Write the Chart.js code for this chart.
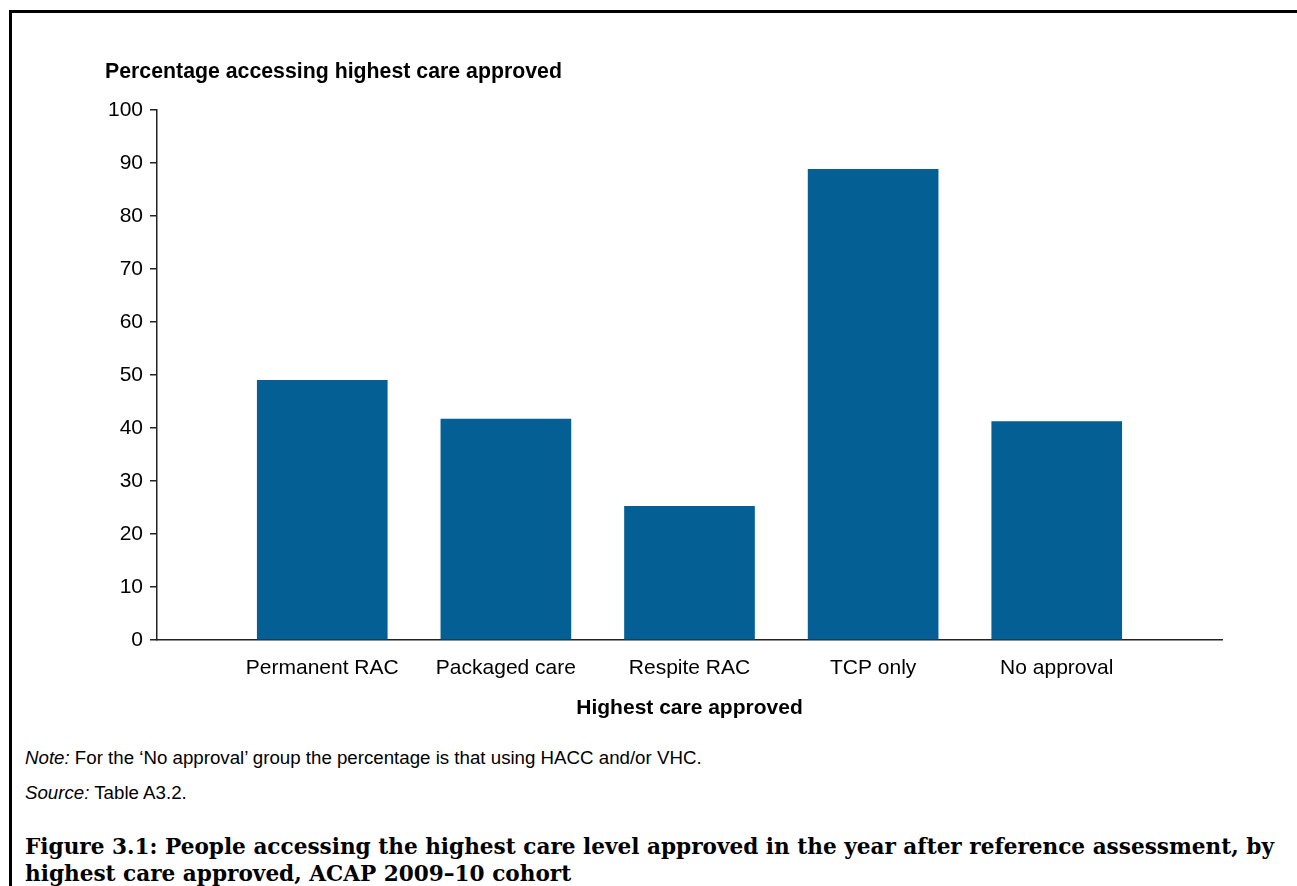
<!DOCTYPE html>
<html>
<head>
<meta charset="utf-8">
<script src="https://cdn.jsdelivr.net/npm/chart.js@4"></script>
<style>
  html, body { margin: 0; padding: 0; background: #fff; }
  body { width: 1297px; height: 886px; position: relative; overflow: hidden; font-family: "Liberation Sans", Arial, sans-serif; color: #000; }
  .frame { position: absolute; left: 9px; top: 10px; width: 1300px; height: 900px; border-left: 3px solid #000; border-top: 3px solid #000; }
  .chartbox { position: absolute; left: 0; top: 0; width: 1297px; height: 730px; }
  .ytitle { position: absolute; left: 105px; top: 59px; font-weight: bold; font-size: 21.3px; white-space: nowrap; }
  .note { position: absolute; left: 25px; font-size: 18.7px; white-space: nowrap; }
  .caption { position: absolute; left: 25px; top: 833px; font-family: "DejaVu Serif", "Liberation Serif", serif; font-weight: bold; font-size: 21.6px; line-height: 27px; white-space: nowrap; }
</style>
</head>
<body>
<div class="frame"></div>
<div class="chartbox"><canvas id="grafica"></canvas></div>
<div class="ytitle">Percentage accessing highest care approved</div>
<div class="note" style="top: 747px;"><i>Note:</i> For the ‘No approval’ group the percentage is that using HACC and/or VHC.</div>
<div class="note" style="top: 782px;"><i>Source:</i> Table A3.2.</div>
<div class="caption">Figure 3.1: People accessing the highest care level approved in the year after reference assessment, by<br>highest care approved, ACAP 2009–10 cohort</div>
<script>
const categorias = ['Permanent RAC', 'Packaged care', 'Respite RAC', 'TCP only', 'No approval'];
const porcentajes = [49.0, 41.7, 25.2, 88.8, 41.2];
const yTicks = [0, 10, 20, 30, 40, 50, 60, 70, 80, 90, 100];

document.addEventListener("DOMContentLoaded", function () {
    const ctx = document.getElementById('grafica').getContext('2d');
    new Chart(ctx, {
        type: 'bar',
        data: {
            datasets: [{
                label: 'Percentage',
                data: categorias.map((c, i) => ({ x: i, y: porcentajes[i] })),
                backgroundColor: '#035f94',
                borderWidth: 0,
                barThickness: 130
            }]
        },
        options: {
            responsive: true,
            maintainAspectRatio: false,
            animation: false,
            layout: { padding: { top: 110, right: 75, left: 0, bottom: 0 } },
            plugins: {
                legend: { display: false },
                tooltip: { enabled: false }
            },
            scales: {
                x: {
                    type: 'linear',
                    min: -0.9,
                    max: 4.9,
                    offset: false,
                    afterBuildTicks: function (scale) {
                        scale.ticks = categorias.map((c, i) => ({ value: i }));
                    },
                    afterFit: function (scale) { scale.height = 90; },
                    ticks: {
                        autoSkip: false,
                        maxRotation: 0,
                        padding: 16,
                        color: '#000',
                        font: { family: 'Liberation Sans', size: 21 },
                        callback: function (value) { return categorias[value]; }
                    },
                    grid: { display: false, drawOnChartArea: false, drawTicks: false },
                    border: { display: true, color: '#222', width: 1.5 },
                    title: {
                        display: true,
                        text: 'Highest care approved',
                        color: '#000',
                        font: { family: 'Liberation Sans', size: 21, weight: 'bold' },
                        padding: { top: 0, bottom: 9 }
                    }
                },
                y: {
                    min: 0,
                    max: 100,
                    afterBuildTicks: function (scale) {
                        scale.ticks = yTicks.map(v => ({ value: v }));
                    },
                    afterFit: function (scale) { scale.width = 157; },
                    ticks: {
                        padding: 7,
                        color: '#000',
                        font: { family: 'Liberation Sans', size: 21 }
                    },
                    grid: { drawOnChartArea: false, drawTicks: true, tickLength: 7, color: '#222', lineWidth: 1.5 },
                    border: { display: true, color: '#222', width: 1.5 }
                }
            }
        }
    });
});
</script>
</body>
</html>
